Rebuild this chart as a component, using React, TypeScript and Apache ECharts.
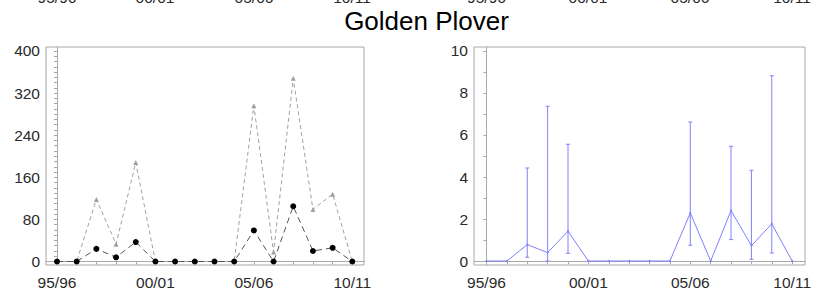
import React, { useEffect, useRef } from "react";
import * as echarts from "echarts";

const seasons = ["95/96","96/97","97/98","98/99","99/00","00/01","01/02","02/03","03/04","04/05","05/06","06/07","07/08","08/09","09/10","10/11"];
const countMean = [0, 0, 24, 8, 37, 0, 0, 0, 0, 0, 59, 0, 105, 20, 26, 0];
const countMax = [0, 0, 118, 33, 188, 0, 0, 0, 0, 0, 296, 18, 348, 99, 128, 0];
const density = [0, 0, 0.78, 0.4, 1.42, 0, 0, 0, 0, 0, 2.29, 0, 2.4, 0.73, 1.77, 0];
const densityLow = [null, null, 0.18, 0, 0.37, null, null, null, null, null, 0.75, null, 1.02, 0.08, 0.38, null];
const densityHigh = [null, null, 4.43, 7.37, 5.56, null, null, null, null, null, 6.62, null, 5.46, 4.32, 8.82, null];
const xLabelIdx = [0, 5, 10, 15];
const leftTicks = [0, 80, 160, 240, 320, 400];
const leftMinorStep = 10;
const rightTicks = [0, 2, 4, 6, 8, 10];
const rightMinorStep = 1;
const titleText = "Golden Plover";

const FONT = "Liberation Sans, Arial, sans-serif";
const LABEL = "#2a2a2a";
const BOX = "#a8a8a8";
const LFS = 15.5;

export default function App() {
  const ref = useRef<HTMLDivElement>(null);
  useEffect(() => {
    if (!ref.current) return;
    const chart = echarts.init(ref.current, undefined, { renderer: "svg" });
    const idx = seasons.map((_, i) => i);
    const mkX = (gi: number, min: number, max: number) => ({
      type: "value", gridIndex: gi, min, max,
      axisLine: { show: true, lineStyle: { color: BOX } },
      axisTick: { show: true, length: 3, customValues: idx, lineStyle: { color: BOX } },
      axisLabel: {
        customValues: xLabelIdx,
        formatter: (v: number) => seasons[Math.round(v)] ?? "",
        color: LABEL, fontSize: LFS, fontFamily: FONT, margin: 9,
      },
      splitLine: { show: false },
    });
    const mkY = (gi: number, ticks: number[], step: number, min: number, max: number) => {
      const lo = ticks[0];
      const hi = ticks[ticks.length - 1];
      const all: number[] = [];
      for (let v = lo; v <= hi + 1e-9; v += step) all.push(+v.toFixed(6));
      return {
        type: "value", gridIndex: gi, min, max,
        axisLine: { show: true, lineStyle: { color: BOX } },
        axisTick: { show: true, length: 3, customValues: all, lineStyle: { color: BOX } },
        axisLabel: { customValues: ticks, color: LABEL, fontSize: LFS, fontFamily: FONT, margin: 6 },
        splitLine: { show: false },
      };
    };
    const topLabels: any[] = [];
    const tops = [57, 155, 254, 352, 486.5, 588, 690, 792];
    [0, 5, 10, 15, 0, 5, 10, 15].forEach((i, k) => {
      topLabels.push({ type: "text", x: tops[k], y: 5, style: { text: seasons[i], fill: LABEL, font: `${LFS}px ${FONT}`, textAlign: "center", textVerticalAlign: "bottom" } });
    });
    chart.setOption({
      animation: false,
      grid: [
        { left: 46, right: 814 - 364, top: 47, bottom: 297 - 265 },
        { left: 474, right: 814 - 805, top: 47, bottom: 297 - 265 },
      ],
      xAxis: [mkX(0, -0.559, 15.594), mkX(1, -0.613, 15.623)],
      yAxis: [mkY(0, leftTicks, leftMinorStep, -6.65, 407.6), mkY(1, rightTicks, rightMinorStep, -0.19, 10.19)],
      graphic: [
        { type: "rect", shape: { x: 46, y: 47, width: 318, height: 218 }, style: { fill: "none", stroke: BOX, lineWidth: 1 } },
        { type: "rect", shape: { x: 474, y: 47, width: 331, height: 218 }, style: { fill: "none", stroke: BOX, lineWidth: 1 } },
        { type: "text", x: 426.5, y: 20.5, style: { text: titleText, fill: "#000", font: `26px ${FONT}`, textAlign: "center", textVerticalAlign: "middle" } },
        ...topLabels,
      ],
      series: [
        {
          type: "line", xAxisIndex: 0, yAxisIndex: 0, data: countMax.map((v, i) => [i, v]),
          symbol: "triangle", symbolSize: 5, itemStyle: { color: "#a0a0a0" },
          lineStyle: { color: "#a0a0a0", width: 1, type: [4, 3] },
        },
        {
          type: "line", xAxisIndex: 0, yAxisIndex: 0, data: countMean.map((v, i) => [i, v]),
          symbol: "circle", symbolSize: 6, itemStyle: { color: "#000" },
          lineStyle: { color: "#555", width: 1, type: [6, 4] },
        },
        {
          type: "line", xAxisIndex: 1, yAxisIndex: 1, data: density.map((v, i) => [i, v]),
          symbol: "circle", symbolSize: 2, itemStyle: { color: "#8080ff" },
          lineStyle: { color: "#8080ff", width: 1 },
        },
        {
          type: "custom", xAxisIndex: 1, yAxisIndex: 1,
          data: densityLow.map((lo, i) => [i, lo, densityHigh[i]]).filter((d) => d[1] !== null),
          renderItem: (params: any, api: any) => {
            const x = api.value(0);
            const lo = api.coord([x, api.value(1)]);
            const hi = api.coord([x, api.value(2)]);
            const st = { stroke: "#8080ff", lineWidth: 1 };
            return {
              type: "group",
              children: [
                { type: "line", shape: { x1: lo[0], y1: lo[1], x2: hi[0], y2: hi[1] }, style: st },
                { type: "line", shape: { x1: lo[0] - 2, y1: lo[1], x2: lo[0] + 2, y2: lo[1] }, style: st },
                { type: "line", shape: { x1: hi[0] - 2, y1: hi[1], x2: hi[0] + 2, y2: hi[1] }, style: st },
              ],
            };
          },
        },
      ],
    });
    return () => chart.dispose();
  }, []);
  return <div ref={ref} style={{ position: "fixed", left: 0, top: 0, width: 814, height: 297, background: "#fff" }} />;
}
